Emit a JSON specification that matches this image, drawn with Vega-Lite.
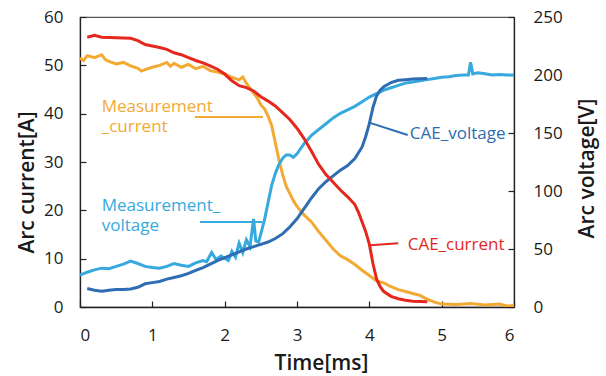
{
  "$schema": "https://vega.github.io/schema/vega-lite/v6.json",
  "width": 434,
  "height": 290,
  "autosize": "none",
  "padding": {"left": 80, "top": 17, "right": 92, "bottom": 69},
  "background": "white",
  "config": {
    "font": "Open Sans",
    "view": {"stroke": "#555555", "strokeWidth": 1.2},
    "axis": {
      "grid": false,
      "domainColor": "#222222",
      "domainWidth": 1.3,
      "tickColor": "#222222",
      "tickWidth": 1.2,
      "labelFont": "Open Sans",
      "labelFontSize": 17,
      "labelColor": "#1a1a1a",
      "titleFont": "Open Sans",
      "titleFontSize": 21,
      "titleFontWeight": 600,
      "titleColor": "#1a1a1a"
    }
  },
  "datasets": {
    "curves": [
      {"series": "Measurement_current", "t": 0.0, "value": 51.5},
      {"series": "Measurement_current", "t": 0.05, "value": 51.0},
      {"series": "Measurement_current", "t": 0.1, "value": 52.0},
      {"series": "Measurement_current", "t": 0.2, "value": 51.6},
      {"series": "Measurement_current", "t": 0.3, "value": 52.2},
      {"series": "Measurement_current", "t": 0.35, "value": 51.2},
      {"series": "Measurement_current", "t": 0.4, "value": 50.8},
      {"series": "Measurement_current", "t": 0.5, "value": 50.3},
      {"series": "Measurement_current", "t": 0.6, "value": 50.6},
      {"series": "Measurement_current", "t": 0.7, "value": 49.9},
      {"series": "Measurement_current", "t": 0.8, "value": 49.4},
      {"series": "Measurement_current", "t": 0.85, "value": 48.8},
      {"series": "Measurement_current", "t": 0.9, "value": 49.1},
      {"series": "Measurement_current", "t": 1.0, "value": 49.6},
      {"series": "Measurement_current", "t": 1.1, "value": 50.0},
      {"series": "Measurement_current", "t": 1.2, "value": 50.6},
      {"series": "Measurement_current", "t": 1.25, "value": 49.8},
      {"series": "Measurement_current", "t": 1.3, "value": 50.4},
      {"series": "Measurement_current", "t": 1.4, "value": 49.6},
      {"series": "Measurement_current", "t": 1.5, "value": 50.2},
      {"series": "Measurement_current", "t": 1.6, "value": 49.3},
      {"series": "Measurement_current", "t": 1.7, "value": 49.8},
      {"series": "Measurement_current", "t": 1.8, "value": 48.9},
      {"series": "Measurement_current", "t": 1.9, "value": 48.6},
      {"series": "Measurement_current", "t": 2.0, "value": 48.2},
      {"series": "Measurement_current", "t": 2.1, "value": 47.5},
      {"series": "Measurement_current", "t": 2.2, "value": 47.0},
      {"series": "Measurement_current", "t": 2.25, "value": 47.6},
      {"series": "Measurement_current", "t": 2.3, "value": 46.3},
      {"series": "Measurement_current", "t": 2.35, "value": 45.3},
      {"series": "Measurement_current", "t": 2.4, "value": 44.2},
      {"series": "Measurement_current", "t": 2.45, "value": 43.3},
      {"series": "Measurement_current", "t": 2.5, "value": 41.8},
      {"series": "Measurement_current", "t": 2.55, "value": 41.0},
      {"series": "Measurement_current", "t": 2.6, "value": 39.5},
      {"series": "Measurement_current", "t": 2.65, "value": 37.5},
      {"series": "Measurement_current", "t": 2.7, "value": 34.0},
      {"series": "Measurement_current", "t": 2.75, "value": 30.5},
      {"series": "Measurement_current", "t": 2.8, "value": 27.5},
      {"series": "Measurement_current", "t": 2.85, "value": 25.0},
      {"series": "Measurement_current", "t": 2.9, "value": 23.5},
      {"series": "Measurement_current", "t": 2.95, "value": 22.0},
      {"series": "Measurement_current", "t": 3.0, "value": 20.8},
      {"series": "Measurement_current", "t": 3.1, "value": 19.0},
      {"series": "Measurement_current", "t": 3.2, "value": 17.6},
      {"series": "Measurement_current", "t": 3.3, "value": 15.6},
      {"series": "Measurement_current", "t": 3.4, "value": 13.8},
      {"series": "Measurement_current", "t": 3.5, "value": 12.0},
      {"series": "Measurement_current", "t": 3.6, "value": 10.6},
      {"series": "Measurement_current", "t": 3.7, "value": 9.8},
      {"series": "Measurement_current", "t": 3.8, "value": 8.8},
      {"series": "Measurement_current", "t": 3.9, "value": 7.6},
      {"series": "Measurement_current", "t": 4.0, "value": 6.5},
      {"series": "Measurement_current", "t": 4.1, "value": 5.4},
      {"series": "Measurement_current", "t": 4.2, "value": 5.0},
      {"series": "Measurement_current", "t": 4.3, "value": 4.2},
      {"series": "Measurement_current", "t": 4.4, "value": 3.6},
      {"series": "Measurement_current", "t": 4.5, "value": 3.2},
      {"series": "Measurement_current", "t": 4.6, "value": 2.8},
      {"series": "Measurement_current", "t": 4.7, "value": 2.4},
      {"series": "Measurement_current", "t": 4.8, "value": 1.6},
      {"series": "Measurement_current", "t": 4.9, "value": 1.0},
      {"series": "Measurement_current", "t": 5.0, "value": 0.6},
      {"series": "Measurement_current", "t": 5.2, "value": 0.5},
      {"series": "Measurement_current", "t": 5.4, "value": 0.7},
      {"series": "Measurement_current", "t": 5.6, "value": 0.4},
      {"series": "Measurement_current", "t": 5.8, "value": 0.6},
      {"series": "Measurement_current", "t": 5.9, "value": 0.2},
      {"series": "Measurement_current", "t": 6.0, "value": 0.3},

      {"series": "CAE_current", "t": 0.1, "value": 55.8},
      {"series": "CAE_current", "t": 0.2, "value": 56.2},
      {"series": "CAE_current", "t": 0.3, "value": 55.8},
      {"series": "CAE_current", "t": 0.5, "value": 55.7},
      {"series": "CAE_current", "t": 0.7, "value": 55.6},
      {"series": "CAE_current", "t": 0.8, "value": 55.1},
      {"series": "CAE_current", "t": 0.9, "value": 54.3},
      {"series": "CAE_current", "t": 1.0, "value": 54.0},
      {"series": "CAE_current", "t": 1.1, "value": 53.7},
      {"series": "CAE_current", "t": 1.2, "value": 53.3},
      {"series": "CAE_current", "t": 1.3, "value": 52.6},
      {"series": "CAE_current", "t": 1.4, "value": 52.2},
      {"series": "CAE_current", "t": 1.5, "value": 51.6},
      {"series": "CAE_current", "t": 1.6, "value": 51.0},
      {"series": "CAE_current", "t": 1.7, "value": 50.5},
      {"series": "CAE_current", "t": 1.8, "value": 49.9},
      {"series": "CAE_current", "t": 1.9, "value": 49.2},
      {"series": "CAE_current", "t": 2.0, "value": 48.2},
      {"series": "CAE_current", "t": 2.1, "value": 46.8},
      {"series": "CAE_current", "t": 2.2, "value": 45.8},
      {"series": "CAE_current", "t": 2.3, "value": 45.4},
      {"series": "CAE_current", "t": 2.4, "value": 44.7},
      {"series": "CAE_current", "t": 2.5, "value": 43.5},
      {"series": "CAE_current", "t": 2.6, "value": 42.6},
      {"series": "CAE_current", "t": 2.7, "value": 41.6},
      {"series": "CAE_current", "t": 2.8, "value": 40.2},
      {"series": "CAE_current", "t": 2.9, "value": 38.8},
      {"series": "CAE_current", "t": 3.0, "value": 37.0},
      {"series": "CAE_current", "t": 3.1, "value": 34.8},
      {"series": "CAE_current", "t": 3.2, "value": 32.2},
      {"series": "CAE_current", "t": 3.3, "value": 29.5},
      {"series": "CAE_current", "t": 3.4, "value": 27.4},
      {"series": "CAE_current", "t": 3.5, "value": 25.8},
      {"series": "CAE_current", "t": 3.6, "value": 24.2},
      {"series": "CAE_current", "t": 3.7, "value": 22.8},
      {"series": "CAE_current", "t": 3.8, "value": 21.2},
      {"series": "CAE_current", "t": 3.85, "value": 19.6},
      {"series": "CAE_current", "t": 3.9, "value": 17.6},
      {"series": "CAE_current", "t": 3.95, "value": 15.6},
      {"series": "CAE_current", "t": 4.0, "value": 13.0},
      {"series": "CAE_current", "t": 4.05, "value": 9.0},
      {"series": "CAE_current", "t": 4.1, "value": 5.8},
      {"series": "CAE_current", "t": 4.15, "value": 4.2},
      {"series": "CAE_current", "t": 4.2, "value": 3.2},
      {"series": "CAE_current", "t": 4.3, "value": 2.2},
      {"series": "CAE_current", "t": 4.4, "value": 1.7},
      {"series": "CAE_current", "t": 4.5, "value": 1.4},
      {"series": "CAE_current", "t": 4.6, "value": 1.2},
      {"series": "CAE_current", "t": 4.8, "value": 1.1},

      {"series": "Measurement_voltage", "t": 0.0, "value": 27.5},
      {"series": "Measurement_voltage", "t": 0.1, "value": 30},
      {"series": "Measurement_voltage", "t": 0.2, "value": 32},
      {"series": "Measurement_voltage", "t": 0.3, "value": 33.5},
      {"series": "Measurement_voltage", "t": 0.4, "value": 33},
      {"series": "Measurement_voltage", "t": 0.5, "value": 35},
      {"series": "Measurement_voltage", "t": 0.6, "value": 37},
      {"series": "Measurement_voltage", "t": 0.7, "value": 39.5},
      {"series": "Measurement_voltage", "t": 0.8, "value": 37.5},
      {"series": "Measurement_voltage", "t": 0.9, "value": 35},
      {"series": "Measurement_voltage", "t": 1.0, "value": 34},
      {"series": "Measurement_voltage", "t": 1.1, "value": 33.5},
      {"series": "Measurement_voltage", "t": 1.2, "value": 35},
      {"series": "Measurement_voltage", "t": 1.3, "value": 37.5},
      {"series": "Measurement_voltage", "t": 1.4, "value": 36},
      {"series": "Measurement_voltage", "t": 1.5, "value": 35},
      {"series": "Measurement_voltage", "t": 1.6, "value": 38},
      {"series": "Measurement_voltage", "t": 1.7, "value": 40},
      {"series": "Measurement_voltage", "t": 1.75, "value": 39},
      {"series": "Measurement_voltage", "t": 1.82, "value": 47},
      {"series": "Measurement_voltage", "t": 1.88, "value": 41},
      {"series": "Measurement_voltage", "t": 1.95, "value": 44},
      {"series": "Measurement_voltage", "t": 2.05, "value": 40},
      {"series": "Measurement_voltage", "t": 2.1, "value": 48},
      {"series": "Measurement_voltage", "t": 2.15, "value": 43},
      {"series": "Measurement_voltage", "t": 2.2, "value": 55},
      {"series": "Measurement_voltage", "t": 2.25, "value": 47},
      {"series": "Measurement_voltage", "t": 2.3, "value": 58},
      {"series": "Measurement_voltage", "t": 2.35, "value": 52},
      {"series": "Measurement_voltage", "t": 2.4, "value": 76},
      {"series": "Measurement_voltage", "t": 2.43, "value": 57},
      {"series": "Measurement_voltage", "t": 2.47, "value": 56},
      {"series": "Measurement_voltage", "t": 2.5, "value": 63},
      {"series": "Measurement_voltage", "t": 2.55, "value": 75},
      {"series": "Measurement_voltage", "t": 2.6, "value": 90},
      {"series": "Measurement_voltage", "t": 2.65, "value": 105},
      {"series": "Measurement_voltage", "t": 2.7, "value": 115},
      {"series": "Measurement_voltage", "t": 2.75, "value": 123},
      {"series": "Measurement_voltage", "t": 2.8, "value": 128},
      {"series": "Measurement_voltage", "t": 2.85, "value": 131},
      {"series": "Measurement_voltage", "t": 2.9, "value": 131},
      {"series": "Measurement_voltage", "t": 2.95, "value": 129},
      {"series": "Measurement_voltage", "t": 3.0, "value": 132},
      {"series": "Measurement_voltage", "t": 3.1, "value": 141},
      {"series": "Measurement_voltage", "t": 3.2, "value": 148},
      {"series": "Measurement_voltage", "t": 3.3, "value": 153},
      {"series": "Measurement_voltage", "t": 3.4, "value": 158},
      {"series": "Measurement_voltage", "t": 3.5, "value": 163},
      {"series": "Measurement_voltage", "t": 3.6, "value": 167},
      {"series": "Measurement_voltage", "t": 3.7, "value": 170},
      {"series": "Measurement_voltage", "t": 3.8, "value": 173},
      {"series": "Measurement_voltage", "t": 3.9, "value": 177},
      {"series": "Measurement_voltage", "t": 4.0, "value": 181},
      {"series": "Measurement_voltage", "t": 4.1, "value": 184},
      {"series": "Measurement_voltage", "t": 4.2, "value": 187},
      {"series": "Measurement_voltage", "t": 4.3, "value": 189},
      {"series": "Measurement_voltage", "t": 4.4, "value": 191},
      {"series": "Measurement_voltage", "t": 4.5, "value": 193},
      {"series": "Measurement_voltage", "t": 4.6, "value": 194},
      {"series": "Measurement_voltage", "t": 4.7, "value": 195},
      {"series": "Measurement_voltage", "t": 4.8, "value": 196},
      {"series": "Measurement_voltage", "t": 4.9, "value": 197},
      {"series": "Measurement_voltage", "t": 5.0, "value": 198},
      {"series": "Measurement_voltage", "t": 5.1, "value": 198.5},
      {"series": "Measurement_voltage", "t": 5.2, "value": 199.5},
      {"series": "Measurement_voltage", "t": 5.3, "value": 200},
      {"series": "Measurement_voltage", "t": 5.37, "value": 200},
      {"series": "Measurement_voltage", "t": 5.4, "value": 211},
      {"series": "Measurement_voltage", "t": 5.43, "value": 201},
      {"series": "Measurement_voltage", "t": 5.5, "value": 202},
      {"series": "Measurement_voltage", "t": 5.6, "value": 201},
      {"series": "Measurement_voltage", "t": 5.7, "value": 200},
      {"series": "Measurement_voltage", "t": 5.8, "value": 200.5},
      {"series": "Measurement_voltage", "t": 5.9, "value": 200},
      {"series": "Measurement_voltage", "t": 6.0, "value": 200},

      {"series": "CAE_voltage", "t": 0.1, "value": 16},
      {"series": "CAE_voltage", "t": 0.2, "value": 14.5},
      {"series": "CAE_voltage", "t": 0.3, "value": 13.5},
      {"series": "CAE_voltage", "t": 0.4, "value": 14.5},
      {"series": "CAE_voltage", "t": 0.5, "value": 15},
      {"series": "CAE_voltage", "t": 0.6, "value": 15},
      {"series": "CAE_voltage", "t": 0.7, "value": 15.5},
      {"series": "CAE_voltage", "t": 0.8, "value": 17},
      {"series": "CAE_voltage", "t": 0.9, "value": 20},
      {"series": "CAE_voltage", "t": 1.0, "value": 21},
      {"series": "CAE_voltage", "t": 1.1, "value": 22},
      {"series": "CAE_voltage", "t": 1.2, "value": 24},
      {"series": "CAE_voltage", "t": 1.3, "value": 25.5},
      {"series": "CAE_voltage", "t": 1.4, "value": 27},
      {"series": "CAE_voltage", "t": 1.5, "value": 29},
      {"series": "CAE_voltage", "t": 1.6, "value": 31.5},
      {"series": "CAE_voltage", "t": 1.7, "value": 34},
      {"series": "CAE_voltage", "t": 1.8, "value": 37},
      {"series": "CAE_voltage", "t": 1.9, "value": 40},
      {"series": "CAE_voltage", "t": 2.0, "value": 42.5},
      {"series": "CAE_voltage", "t": 2.1, "value": 45},
      {"series": "CAE_voltage", "t": 2.2, "value": 47.5},
      {"series": "CAE_voltage", "t": 2.3, "value": 50},
      {"series": "CAE_voltage", "t": 2.4, "value": 52},
      {"series": "CAE_voltage", "t": 2.5, "value": 54},
      {"series": "CAE_voltage", "t": 2.6, "value": 56},
      {"series": "CAE_voltage", "t": 2.7, "value": 59},
      {"series": "CAE_voltage", "t": 2.8, "value": 63},
      {"series": "CAE_voltage", "t": 2.9, "value": 69},
      {"series": "CAE_voltage", "t": 3.0, "value": 76},
      {"series": "CAE_voltage", "t": 3.1, "value": 85},
      {"series": "CAE_voltage", "t": 3.2, "value": 94},
      {"series": "CAE_voltage", "t": 3.3, "value": 102},
      {"series": "CAE_voltage", "t": 3.4, "value": 108},
      {"series": "CAE_voltage", "t": 3.5, "value": 113},
      {"series": "CAE_voltage", "t": 3.6, "value": 118},
      {"series": "CAE_voltage", "t": 3.7, "value": 122},
      {"series": "CAE_voltage", "t": 3.8, "value": 128},
      {"series": "CAE_voltage", "t": 3.9, "value": 138},
      {"series": "CAE_voltage", "t": 3.95, "value": 147},
      {"series": "CAE_voltage", "t": 4.0, "value": 158},
      {"series": "CAE_voltage", "t": 4.05, "value": 172},
      {"series": "CAE_voltage", "t": 4.1, "value": 182},
      {"series": "CAE_voltage", "t": 4.15, "value": 187},
      {"series": "CAE_voltage", "t": 4.2, "value": 190},
      {"series": "CAE_voltage", "t": 4.3, "value": 193.5},
      {"series": "CAE_voltage", "t": 4.4, "value": 195.5},
      {"series": "CAE_voltage", "t": 4.5, "value": 196},
      {"series": "CAE_voltage", "t": 4.6, "value": 196.5},
      {"series": "CAE_voltage", "t": 4.8, "value": 197}
    ],
    "labels": [
      {"series": "Measurement_current", "label": "Measurement\n_current", "t": 0.3, "a": 40.3},
      {"series": "Measurement_voltage", "label": "Measurement_\nvoltage", "t": 0.3, "a": 19.9},
      {"series": "CAE_voltage", "label": "CAE_voltage", "t": 4.56, "a": 34.8},
      {"series": "CAE_current", "label": "CAE_current", "t": 4.53, "a": 11.8}
    ],
    "leaders": [
      {"series": "Measurement_current", "t": 1.59, "a": 39.3, "t2": 2.53, "a2": 39.3},
      {"series": "Measurement_voltage", "t": 1.66, "a": 17.6, "t2": 2.52, "a2": 17.6},
      {"series": "CAE_voltage", "t": 4.01, "a": 38.1, "t2": 4.53, "a2": 35.6},
      {"series": "CAE_current", "t": 4.01, "a": 12.8, "t2": 4.4, "a2": 13.2}
    ]
  },
  "resolve": {"scale": {"y": "independent"}},
  "layer": [
    {
      "data": {"name": "curves"},
      "transform": [{"filter": "datum.series === 'Measurement_current'"}],
      "mark": {"type": "line", "strokeWidth": 3, "clip": true},
      "encoding": {
        "x": {"field": "t", "type": "quantitative", "scale": {"domain": [0, 6], "nice": false},
              "axis": {"title": "Time[ms]", "values": [0, 1, 2, 3, 4, 5, 6], "format": "d", "tickSize": -6, "labelPadding": 26,
                       "titleX": 241, "titleY": 62, "titleAlign": "center", "titleBaseline": "alphabetic"}},
        "y": {"field": "value", "type": "quantitative", "scale": {"domain": [0, 60], "nice": false},
              "axis": {"orient": "left", "title": "Arc current[A]", "values": [0, 10, 20, 30, 40, 50, 60], "tickSize": -6, "labelPadding": 23,
                       "titleX": -47, "titleY": 165, "titleAngle": -90, "titleAlign": "center", "titleBaseline": "alphabetic"}},
        "color": {"field": "series", "type": "nominal", "legend": null,
                  "scale": {"domain": ["Measurement_current", "CAE_current", "Measurement_voltage", "CAE_voltage"],
                            "range": ["#F2AA33", "#E5281E", "#36AADF", "#2E6CB3"]}}
      }
    },
    {
      "data": {"name": "curves"},
      "transform": [{"filter": "datum.series === 'Measurement_voltage' || datum.series === 'CAE_voltage'"}],
      "mark": {"type": "line", "strokeWidth": 3, "clip": true},
      "encoding": {
        "x": {"field": "t", "type": "quantitative", "scale": {"domain": [0, 6], "nice": false},
              "axis": {"title": "Time[ms]", "values": [0, 1, 2, 3, 4, 5, 6], "format": "d", "tickSize": -6, "labelPadding": 26,
                       "titleX": 241, "titleY": 62, "titleAlign": "center", "titleBaseline": "alphabetic"}},
        "y": {"field": "value", "type": "quantitative", "scale": {"domain": [0, 250], "nice": false},
              "axis": {"orient": "right", "title": "Arc voltage[V]", "values": [0, 50, 100, 150, 200, 250], "tickSize": -6, "labelPadding": 25,
                       "titleX": 79, "titleY": 151, "titleAngle": -90, "titleAlign": "center", "titleBaseline": "alphabetic"}},
        "color": {"field": "series", "type": "nominal", "legend": null},
        "order": {"field": "t", "type": "quantitative"}
      }
    },
    {
      "layer": [
        {
          "data": {"name": "curves"},
          "transform": [{"filter": "datum.series === 'CAE_current'"}],
          "mark": {"type": "line", "strokeWidth": 3, "clip": true},
          "encoding": {
            "x": {"field": "t", "type": "quantitative", "scale": {"domain": [0, 6], "nice": false},
                  "axis": {"title": "Time[ms]", "values": [0, 1, 2, 3, 4, 5, 6], "format": "d", "tickSize": -6, "labelPadding": 26,
                           "titleX": 241, "titleY": 62, "titleAlign": "center", "titleBaseline": "alphabetic"}},
            "y": {"field": "value", "type": "quantitative", "scale": {"domain": [0, 60], "nice": false}, "axis": null},
            "color": {"field": "series", "type": "nominal", "legend": null}
          }
        },
        {
          "data": {"name": "leaders"},
          "mark": {"type": "rule", "strokeWidth": 2},
          "encoding": {
            "x": {"field": "t", "type": "quantitative", "scale": {"domain": [0, 6], "nice": false},
                  "axis": {"title": "Time[ms]", "values": [0, 1, 2, 3, 4, 5, 6], "format": "d", "tickSize": -6, "labelPadding": 26,
                           "titleX": 241, "titleY": 62, "titleAlign": "center", "titleBaseline": "alphabetic"}},
            "x2": {"field": "t2"},
            "y": {"field": "a", "type": "quantitative", "scale": {"domain": [0, 60], "nice": false}, "axis": null},
            "y2": {"field": "a2"},
            "color": {"field": "series", "type": "nominal", "legend": null}
          }
        },
        {
          "data": {"name": "labels"},
          "mark": {"type": "text", "align": "left", "baseline": "alphabetic", "fontSize": 17, "font": "Open Sans", "lineBreak": "\n", "lineHeight": 20},
          "encoding": {
            "x": {"field": "t", "type": "quantitative", "scale": {"domain": [0, 6], "nice": false},
                  "axis": {"title": "Time[ms]", "values": [0, 1, 2, 3, 4, 5, 6], "format": "d", "tickSize": -6, "labelPadding": 26,
                           "titleX": 241, "titleY": 62, "titleAlign": "center", "titleBaseline": "alphabetic"}},
            "y": {"field": "a", "type": "quantitative", "scale": {"domain": [0, 60], "nice": false}, "axis": null},
            "text": {"field": "label"},
            "color": {"field": "series", "type": "nominal", "legend": null}
          }
        }
      ]
    }
  ]
}
